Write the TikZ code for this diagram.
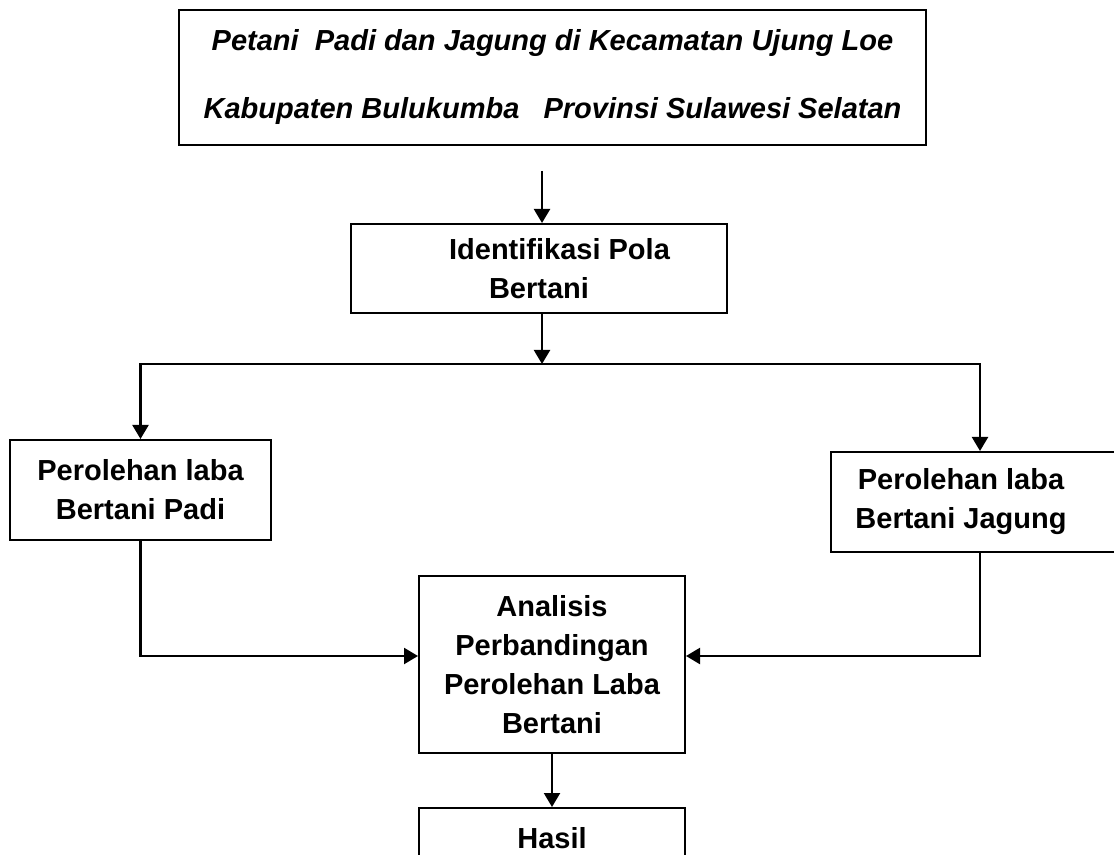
\documentclass[tikz,border=0pt]{standalone}
\usepackage{fontspec}
\setmainfont{Liberation Sans}
\usetikzlibrary{arrows.meta}

\tikzset{
  kotak/.style={draw, line width=1pt, align=center, inner sep=0pt,
    font=\bfseries\fontsize{14.5}{19.5}\selectfont},
}

\begin{document}
\begin{tikzpicture}[>={Triangle[length=7pt,width=8pt]}, x=0.5pt, y=-0.5pt, line width=1.1pt]
\useasboundingbox (0,0) rectangle (1114,855);

\node[kotak, font=\bfseries\itshape\fontsize{14.5}{19.5}\selectfont, minimum width=373.5pt, minimum height=67.5pt] (petani) at (552.5,77.5)
  {Petani\ \ Padi dan Jagung di Kecamatan Ujung Loe\\[14.5pt]Kabupaten Bulukumba\ \ \ Provinsi Sulawesi Selatan};
\node[kotak, minimum width=188pt, minimum height=44.5pt] (idpola) at (539,268.5)
  {\hspace*{20.5pt}Identifikasi Pola\\Bertani};
\node[kotak, minimum width=130.5pt, minimum height=50pt] (padi) at (140.5,490)
  {Perolehan laba\\Bertani Padi};
\node[kotak, minimum width=144.5pt, minimum height=50pt] (jagung) at (975.5,502)
  {Perolehan laba\hspace{14.5pt}\null\\Bertani Jagung\hspace{14.5pt}\null};
\node[kotak, minimum width=133pt, minimum height=88.5pt] (analisis) at (552,664.5)
  {Analisis\\Perbandingan\\Perolehan Laba\\Bertani};
\node[kotak, anchor=north, minimum width=133pt, minimum height=30pt] (hasil) at (552,807)
  {Hasil};

\coordinate (atas) at (542,171);
\coordinate (cabang) at (542,364);
\coordinate (kanan) at (980,364);

\draw[->] (atas) -- (atas |- idpola.north);
\draw[->] (cabang |- idpola.south) -- (cabang);
\draw[->] (cabang) -| (padi.north);
\draw[->] (cabang) -- (kanan) -- (kanan |- jagung.north);

\draw[->] (padi.south) |- ([yshift=4.25pt]analisis.west);
\draw[->] (kanan |- jagung.south) |- ([yshift=4.25pt]analisis.east);
\draw[->] (analisis) -- (hasil);

\end{tikzpicture}
\end{document}
